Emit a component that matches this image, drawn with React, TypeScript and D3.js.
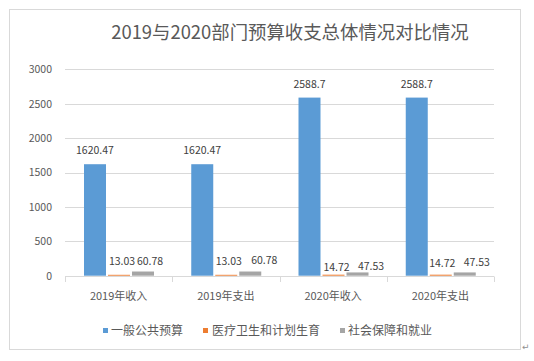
import React from "react";
import * as d3 from "d3";

const categories = ["2019年收入", "2019年支出", "2020年收入", "2020年支出"];
const seriesNames = ["一般公共预算", "医疗卫生和计划生育", "社会保障和就业"];
const generalBudget = [1620.47, 1620.47, 2588.7, 2588.7];
const medicalHealth = [13.03, 13.03, 14.72, 14.72];
const socialSecurity = [60.78, 60.78, 47.53, 47.53];
const yTicks = [0, 500, 1000, 1500, 2000, 2500, 3000];
const title = "2019与2020部门预算收支总体情况对比情况";

// styling
const colors = ["#5B9BD5", "#ED7D31", "#A5A5A5"];
const labelNudge: [number, number][][] = [
  [[0, 0], [0, 0], [0, 0], [0, 0]],
  [[3, 0], [2.5, 0], [3, 6], [1.5, 2.5]],
  [[7, 3.5], [14, 2.5], [13.5, 7.6], [12, 3.3]],
];

const W = 534;
const H = 361;
const FONT = "'Noto Sans CJK SC', 'Noto Sans', sans-serif";

export default function App() {
  const seriesValues = [generalBudget, medicalHealth, socialSecurity];
  const x = d3.scaleBand<string>().domain(categories).range([65, 494]).padding(0);
  const inner = d3
    .scaleBand<string>()
    .domain(seriesNames)
    .range([19, 89])
    .paddingInner(1 / 12)
    .paddingOuter(0);
  const y = d3.scaleLinear().domain([0, 3000]).range([275.7, 69.3]);
  const fmt = (v: number) => String(v);

  return (
    <svg
      width={W}
      height={H}
      style={{ position: "absolute", left: 0, top: 0, background: "#fff" }}
      fontFamily={FONT}
    >
      <rect x={9.5} y={9.5} width={511} height={340} fill="#fff" stroke="#D9D9D9" strokeWidth={1} />
      <text x={290} y={38.5} textAnchor="middle" fontSize={18.4} fill="#595959">
        {title}
      </text>
      {yTicks.map((t) => (
        <g key={t}>
          {t > 0 && (
            <line x1={65} x2={494} y1={Math.round(y(t)) + 0.5} y2={Math.round(y(t)) + 0.5} stroke="#D9D9D9" />
          )}
          <text x={52} y={y(t) + 3.8} textAnchor="end" fontSize={10.5} fill="#595959">
            {t}
          </text>
        </g>
      ))}
      {seriesValues.map((vals, si) =>
        vals.map((v, ci) => {
          const bx = (x(categories[ci]) as number) + (inner(seriesNames[si]) as number);
          const bw = inner.bandwidth();
          return (
            <rect key={`b${si}-${ci}`} x={bx} y={y(v)} width={bw} height={y(0) - y(v)} fill={colors[si]} />
          );
        })
      )}
      <line x1={65} x2={494} y1={276.5} y2={276.5} stroke="#D9D9D9" />
      {[...categories.map((c) => x(c) as number), 494].map((tx, i) => (
        <line key={`t${i}`} x1={Math.round(tx) + 0.5} x2={Math.round(tx) + 0.5} y1={276.5} y2={282} stroke="#D9D9D9" />
      ))}
      {categories.map((c) => (
        <text key={c} x={(x(c) as number) + x.bandwidth() / 2} y={300} textAnchor="middle" fontSize={11} fill="#595959">
          {c}
        </text>
      ))}
      {seriesValues.map((vals, si) =>
        vals.map((v, ci) => {
          const cx = (x(categories[ci]) as number) + (inner(seriesNames[si]) as number) + inner.bandwidth() / 2;
          const [dx, dy] = labelNudge[si][ci];
          return (
            <text key={`l${si}-${ci}`} x={cx + dx} y={y(v) - 10 + dy} textAnchor="middle" fontSize={10.5} fill="#404040">
              {fmt(v)}
            </text>
          );
        })
      )}
      {[
        [103, 111],
        [203, 212],
        [340, 348],
      ].map(([mx, tx], i) => (
        <g key={`lg${i}`}>
          <rect x={mx} y={328} width={5} height={5} fill={colors[i]} />
          <text x={tx} y={335} fontSize={12} fill="#595959">
            {seriesNames[i]}
          </text>
        </g>
      ))}
      <text x={522} y={350} fontSize={9} fill="#909090" fontFamily="DejaVu Sans">
        ↵
      </text>
    </svg>
  );
}
